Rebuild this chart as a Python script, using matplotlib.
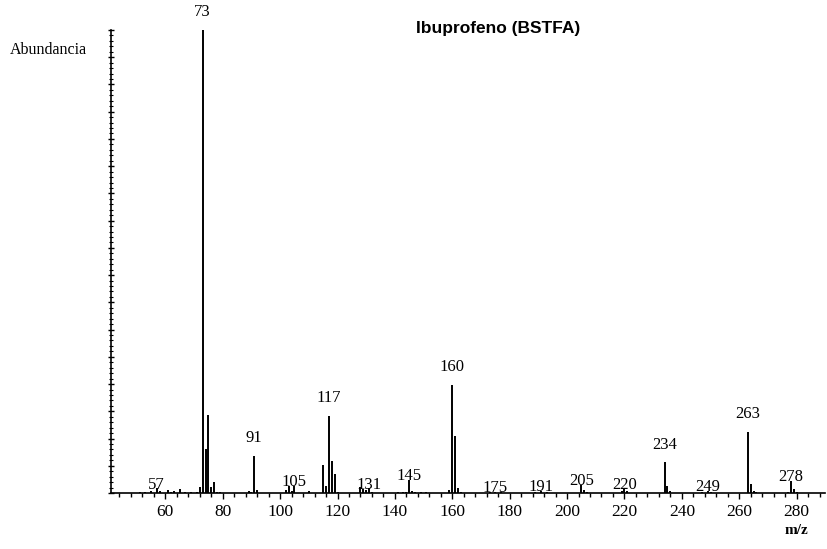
import matplotlib.pyplot as plt
from matplotlib.ticker import MultipleLocator, NullFormatter

# espectro de masas, abundancia en cuentas
mz = [51, 53, 55, 57, 58, 61, 62, 63, 65, 67, 69,
      71, 72, 73, 74, 75, 76, 77, 78, 79,
      89, 90, 91, 92, 102, 103, 104, 105, 110,
      115, 116, 117, 118, 119, 120, 128, 129, 130, 131, 132,
      141, 143, 144, 145, 146, 147, 149, 151,
      159, 160, 161, 162, 163, 173, 175, 177, 189, 191, 193,
      205, 206, 207, 219, 220, 221, 234, 235, 236, 247, 249, 250,
      263, 264, 265, 266, 277, 278, 279, 280]
abund = [5100, 5100, 6800, 17000, 8500, 10200, 5100, 6800, 15300, 5100, 3400,
         5100, 20400, 1700000, 162000, 286000, 20400, 39100, 5100, 5100,
         8500, 3400, 136000, 11900, 10200, 25500, 8500, 27200, 6800,
         102000, 25500, 282000, 117300, 68000, 5100, 22100, 15300, 10200, 17000, 5100,
         5100, 5100, 5100, 47600, 8500, 5100, 3400, 3400,
         10200, 396000, 211000, 17000, 5100, 3400, 5100, 3400, 3400, 6800, 5100,
         28900, 10200, 5100, 6800, 17000, 8500, 112000, 25500, 8500, 5100, 6800, 3400,
         224000, 32300, 8500, 5100, 5100, 45900, 13600, 5100]
etiquetas = [57, 73, 91, 105, 117, 131, 145, 160, 175, 191, 205, 220, 234, 249, 263, 278]

plt.rcParams['font.family'] = ['Liberation Serif', 'DejaVu Serif']

fig = plt.figure(figsize=(8.27, 5.49), dpi=100)
ax = fig.add_axes([0.134, 0.102, 0.8636, 0.8434])

ax.vlines(mz, 0, abund, colors='black', linewidth=1.4)

maximo = max(abund)
for m in etiquetas:
    a = abund[mz.index(m)]
    off = 7 if a > 0.05 * maximo else -3
    ax.annotate(str(m), (m, a), xytext=(0, off), textcoords='offset points',
                ha='center', va='bottom', fontsize=12)

ax.set_xlim(41.0, 289.9)
ax.set_ylim(0, maximo)
ax.xaxis.set_major_locator(MultipleLocator(20))
ax.xaxis.set_minor_locator(MultipleLocator(4))
ax.yaxis.set_major_locator(MultipleLocator(100000))
ax.yaxis.set_minor_locator(MultipleLocator(20000))
ax.yaxis.set_major_formatter(NullFormatter())
ax.tick_params(axis='x', which='major', length=4, width=1, pad=4, labelsize=12.5)
ax.tick_params(axis='x', which='minor', length=3, width=1)
ax.tick_params(axis='y', which='major', length=4, width=1, direction='inout')
ax.tick_params(axis='y', which='minor', length=3, width=0.8, direction='inout')
for s in ['top', 'right']:
    ax.spines[s].set_visible(False)
ax.spines['left'].set_linewidth(1.2)
ax.spines['bottom'].set_linewidth(1.2)

fig.text(498 / 827, 1 - 28 / 549, 'Ibuprofeno (BSTFA)', ha='center', va='center',
         fontsize=12.5, fontweight='bold', family=['Liberation Sans', 'DejaVu Sans'])
fig.text(10 / 827, 1 - 50 / 549, 'Abundancia', ha='left', va='center', fontsize=11.5)
fig.text(796 / 827, 1 - 530 / 549, 'm/z', ha='center', va='center', fontsize=11, fontweight='bold')

fig.savefig('out.png', dpi=100)
